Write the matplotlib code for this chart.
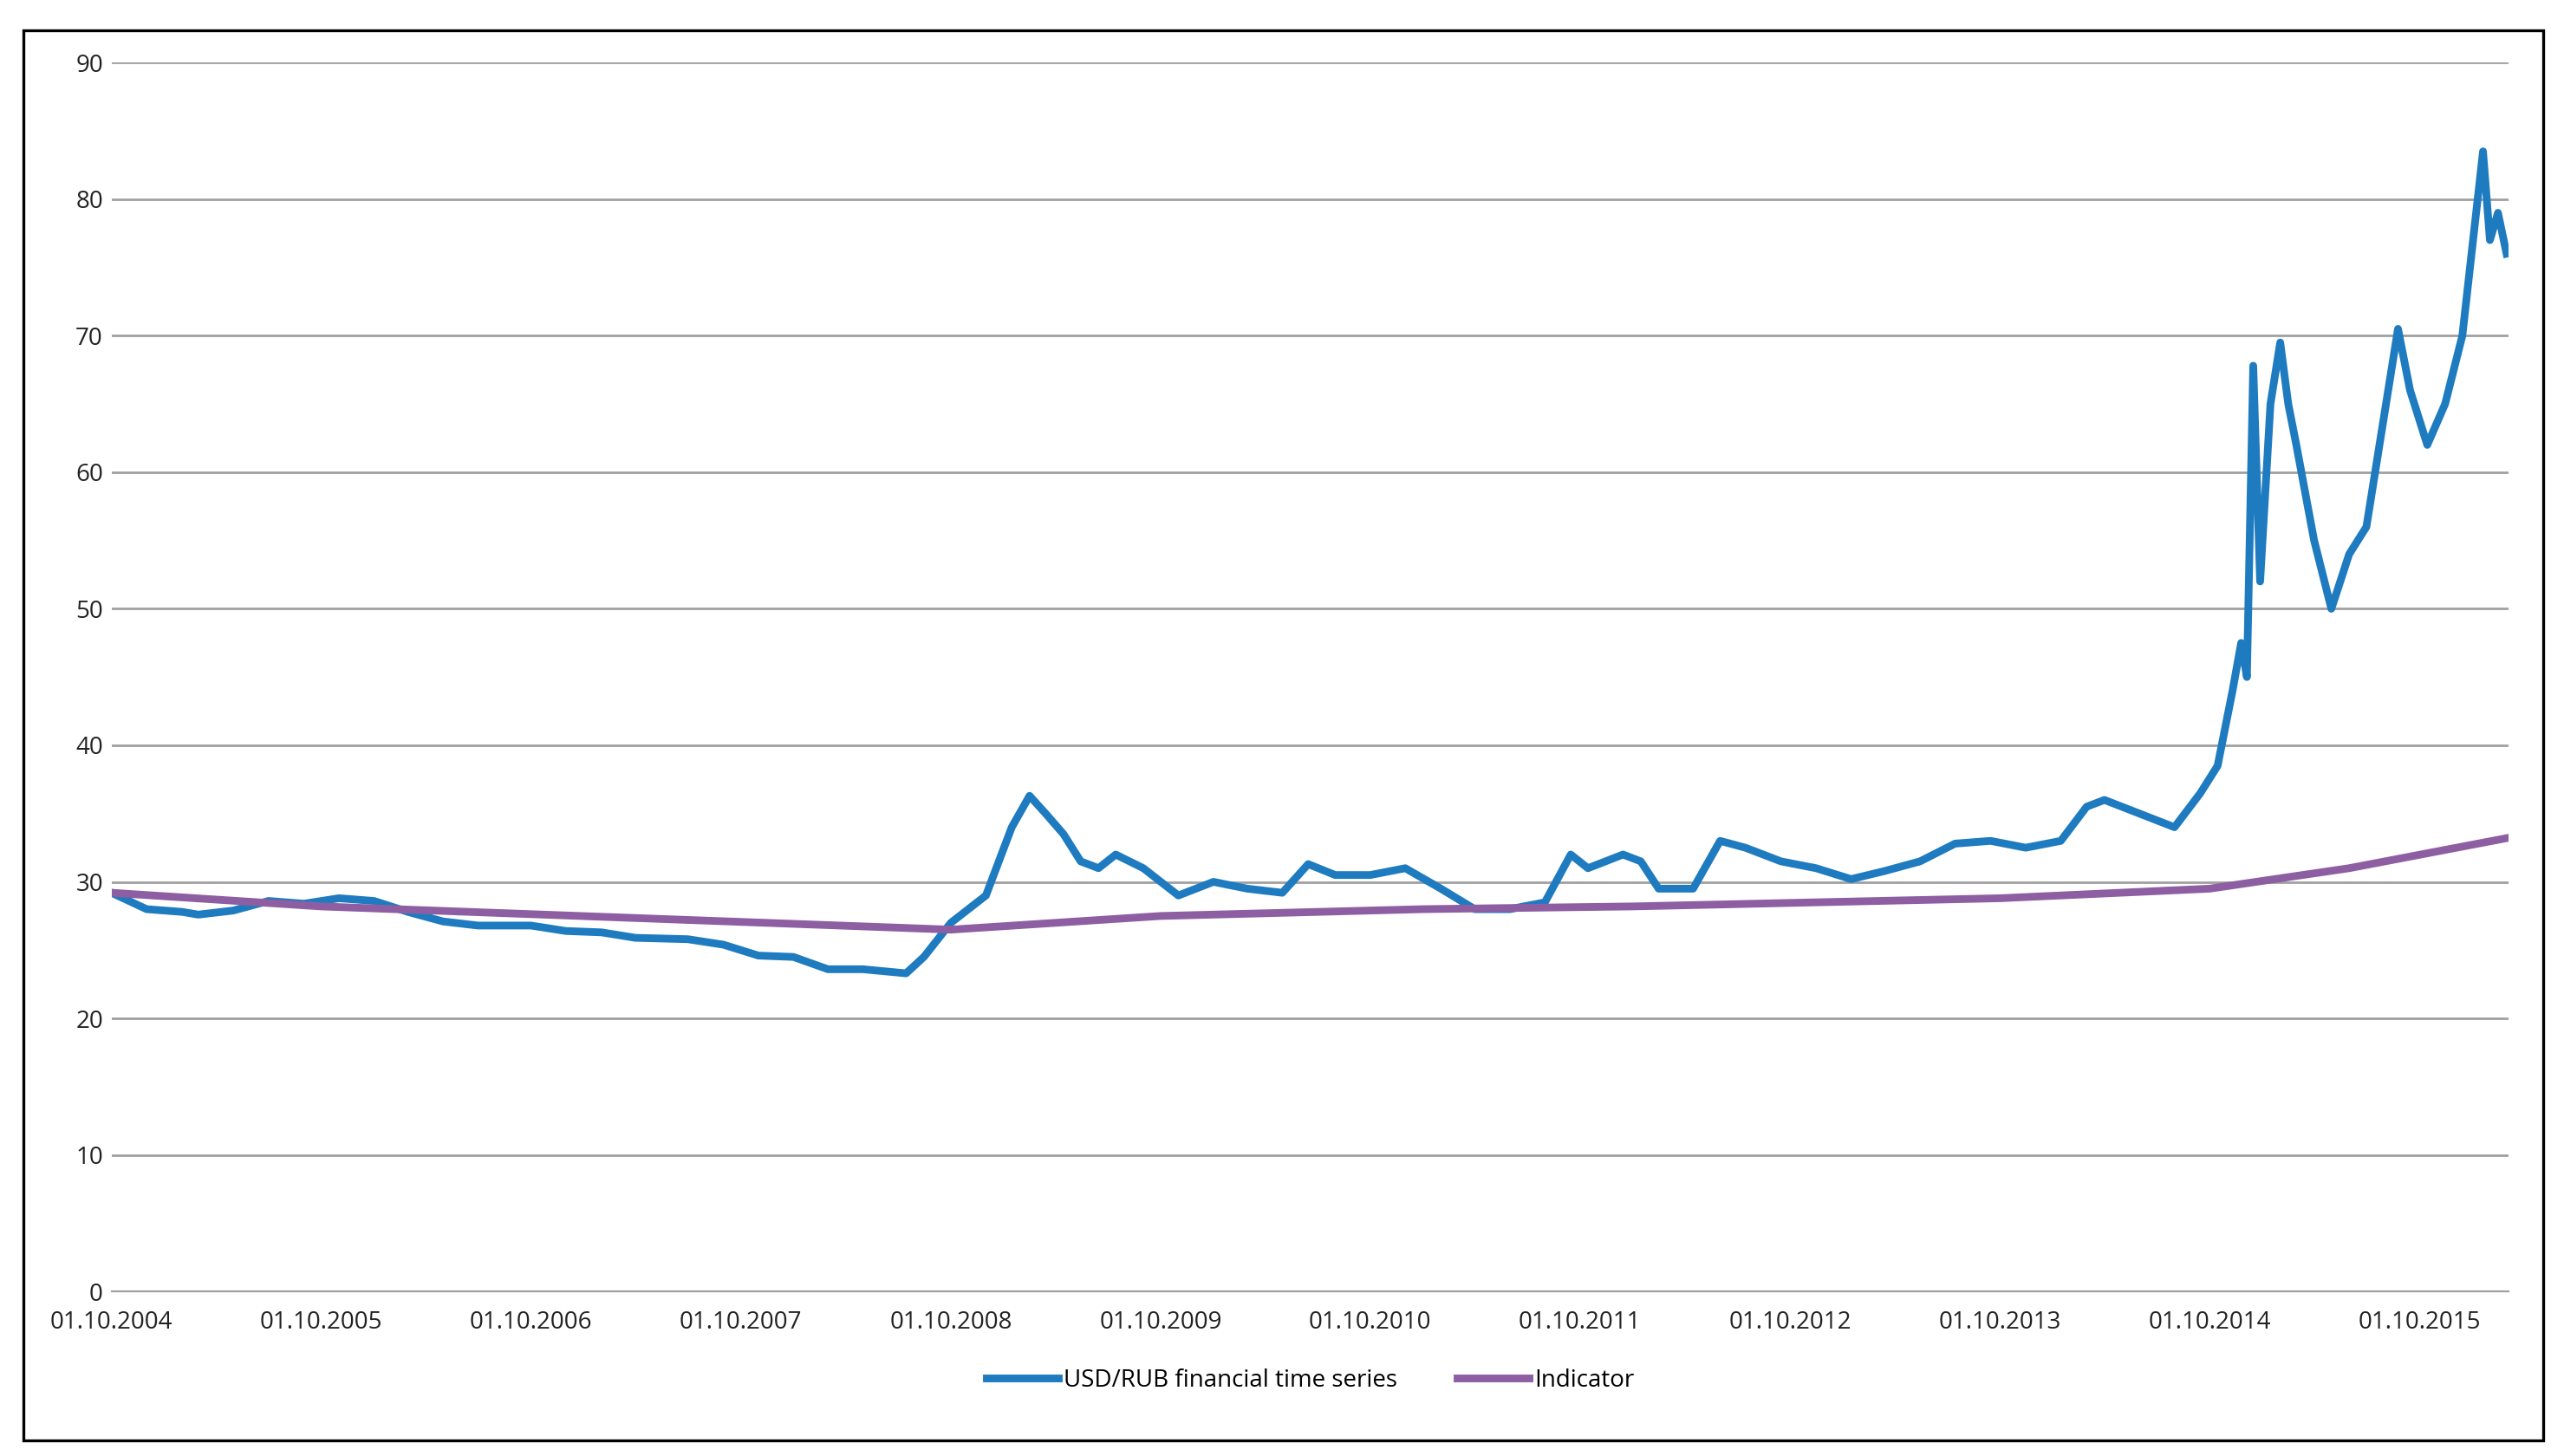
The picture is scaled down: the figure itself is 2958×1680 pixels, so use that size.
import pandas as pd
import matplotlib.pyplot as plt
import matplotlib.dates as mdates
from matplotlib.patches import Rectangle

# USD/RUB
fx_dates = ["2004-10-01", "2004-12-01", "2005-02-01", "2005-03-01", "2005-05-01", "2005-07-01",
            "2005-09-01", "2005-11-01", "2006-01-01", "2006-03-01", "2006-05-01", "2006-07-01",
            "2006-10-01", "2006-12-01", "2007-02-01", "2007-04-01", "2007-07-01", "2007-09-01",
            "2007-11-01", "2008-01-01", "2008-03-01", "2008-05-01", "2008-07-15", "2008-08-15",
            "2008-10-01", "2008-12-01", "2009-01-15", "2009-02-15", "2009-03-15", "2009-04-15",
            "2009-05-15", "2009-06-15", "2009-07-15", "2009-09-01", "2009-11-01", "2010-01-01",
            "2010-03-01", "2010-05-01", "2010-06-15", "2010-08-01", "2010-10-01", "2010-12-01",
            "2011-02-01", "2011-04-01", "2011-06-01", "2011-08-01", "2011-09-15", "2011-10-15",
            "2011-12-15", "2012-01-15", "2012-02-15", "2012-04-15", "2012-06-01", "2012-07-15",
            "2012-09-15", "2012-11-15", "2013-01-15", "2013-03-15", "2013-05-15", "2013-07-15",
            "2013-09-15", "2013-11-15", "2014-01-15", "2014-03-01", "2014-04-01", "2014-06-01",
            "2014-08-01", "2014-09-15", "2014-10-15", "2014-11-10", "2014-11-25", "2014-12-05",
            "2014-12-16", "2014-12-28", "2015-01-15", "2015-02-01", "2015-02-15", "2015-03-01",
            "2015-04-01", "2015-05-01", "2015-06-01", "2015-07-01", "2015-08-25", "2015-09-15",
            "2015-10-15", "2015-11-15", "2015-12-15", "2016-01-20", "2016-02-01", "2016-02-15",
            "2016-03-01"]
fx_values = [29.2, 28.0, 27.8, 27.6, 27.9, 28.6,
             28.4, 28.8, 28.6, 27.8, 27.1, 26.8,
             26.8, 26.4, 26.3, 25.9, 25.8, 25.4,
             24.6, 24.5, 23.6, 23.6, 23.3, 24.5,
             27.0, 29.0, 34.0, 36.3, 35.0, 33.5,
             31.5, 31.0, 32.0, 31.0, 29.0, 30.0,
             29.5, 29.2, 31.3, 30.5, 30.5, 31.0,
             29.5, 28.0, 28.0, 28.5, 32.0, 31.0,
             32.0, 31.5, 29.5, 29.5, 33.0, 32.5,
             31.5, 31.0, 30.2, 30.8, 31.5, 32.8,
             33.0, 32.5, 33.0, 35.5, 36.0, 35.0,
             34.0, 36.5, 38.5, 44.0, 47.5, 45.0,
             67.8, 52.0, 65.0, 69.5, 65.0, 62.0,
             55.0, 50.0, 54.0, 56.0, 70.5, 66.0,
             62.0, 65.0, 70.0, 83.5, 77.0, 79.0,
             76.0]

ind_dates = ["2004-10-01", "2005-10-01", "2008-10-01", "2009-10-01", "2011-01-01",
             "2012-01-01", "2013-10-01", "2014-10-01", "2015-06-01", "2016-03-01"]
ind_values = [29.2, 28.2, 26.5, 27.5, 28.0, 28.2, 28.8, 29.5, 31.0, 33.2]

tick_dates = [f"{y}-10-01" for y in range(2004, 2016)]

fx_x = pd.to_datetime(fx_dates)
ind_x = pd.to_datetime(ind_dates)
ticks = pd.to_datetime(tick_dates)

plt.rcParams['font.family'] = ['Open Sans', 'DejaVu Sans']
fig = plt.figure(figsize=(14.79, 8.4), dpi=200)
ax = fig.add_axes([0.0435, 0.113, 0.935, 0.844])

ax.plot(fx_x, fx_values, color="#1f7bbf", lw=3.2, label="USD/RUB financial time series")
ax.plot(ind_x, ind_values, color="#8e5ea2", lw=3.2, label="Indicator")

ax.set_ylim(0, 90)
ax.set_yticks(range(0, 91, 10))
ax.set_xlim(ticks[0], pd.Timestamp("2016-03-05"))
ax.set_xticks(ticks)
ax.xaxis.set_major_formatter(mdates.DateFormatter("%d.%m.%Y"))
ax.grid(axis="y", color="#a0a0a0", lw=1)
ax.set_axisbelow(True)
for s in ["top", "right", "left"]:
    ax.spines[s].set_visible(False)
ax.spines["bottom"].set_color("#a0a0a0")
ax.tick_params(length=0, labelsize=10, colors="#222222")
ax.tick_params(axis="x", pad=8)

ax.legend(loc="upper center", bbox_to_anchor=(0.5, -0.045), ncol=2, frameon=False,
          fontsize=10, handlelength=3, columnspacing=2.5, handletextpad=0.2)

fig.patches.append(Rectangle((0.009, 0.011), 0.983, 0.968, transform=fig.transFigure,
                             fill=False, edgecolor="black", lw=1.2))

fig.savefig("out.png", dpi=200)
